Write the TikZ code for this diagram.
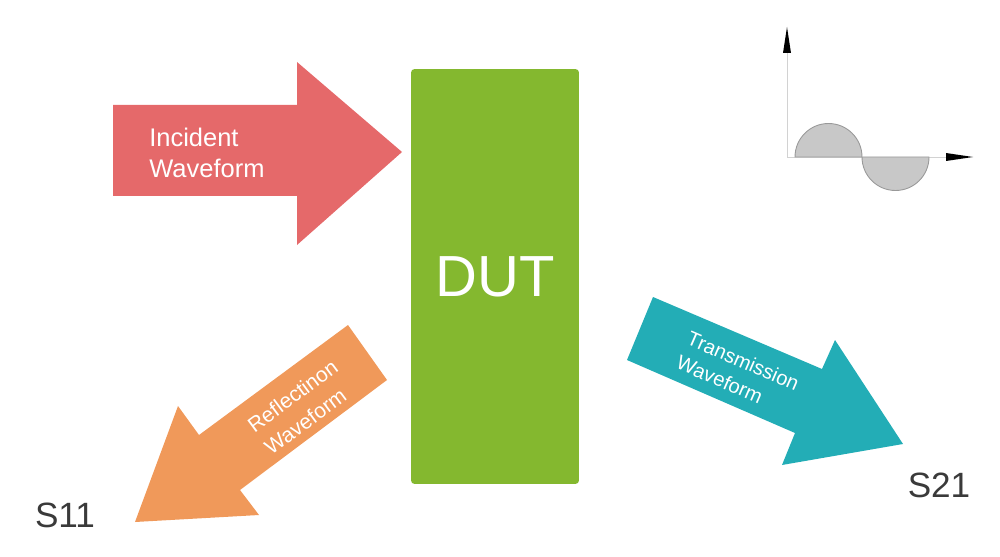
\documentclass[tikz,border=0pt]{standalone}
\usepackage{fontspec}
\setmainfont{Liberation Sans}
\definecolor{wvred}{HTML}{E5696A}
\definecolor{wvgreen}{HTML}{84B82F}
\definecolor{wvorange}{HTML}{F0995A}
\definecolor{wvteal}{HTML}{23ADB6}
\definecolor{wvgray}{HTML}{3A3A3A}
\definecolor{wvfill}{HTML}{C8C8C8}

\begin{document}
\begin{tikzpicture}[x=0.02cm, y=-0.02cm,
  wavelabel/.style={text=white, align=left, inner sep=0pt},
  portlabel/.style={text=wvgray, inner sep=0pt, font=\fontsize{20}{24}\selectfont}]
  \useasboundingbox (0,0) rectangle (1000,557);
  % incident block arrow
  \fill[wvred] (113,105) -- (297,105) -- (297,62) -- (402,152) -- (297,245) -- (297,196) -- (113,196) -- cycle;
  \node[wavelabel, anchor=west, font=\fontsize{14.5}{18}\selectfont] (incident) at (149,153) {Incident\\Waveform};
  % device under test
  \node[fill=wvgreen, rounded corners=2pt, minimum width=3.36cm, minimum height=8.3cm,
        text=white, font=\fontsize{33}{40}\selectfont] (dut) at (495,276.5) {DUT};
  % reflected block arrow
  \fill[wvorange] (348,325) -- (387,380) -- (240,490) -- (259,515) -- (135,522) -- (178,406) -- (199,435) -- cycle;
  \node[wavelabel, rotate=36.5, font=\fontsize{12}{16}\selectfont] (reflection) at (301,407) {Reflectinon\\Waveform};
  % transmitted block arrow
  \fill[wvteal] (653,297) -- (822,369) -- (835,340) -- (903,444) -- (782,465) -- (795,433) -- (627,360) -- cycle;
  \node[wavelabel, rotate=-23.5, font=\fontsize{11.5}{15}\selectfont] (transmission) at (738,373) {Transmission\\Waveform};
  % port names
  \node[portlabel] (s11) at (65,515) {S11};
  \node[portlabel] (s21) at (939,485) {S21};
  % small sine sketch: axes
  \draw[gray!35, line width=0.5pt] (787,53) -- (787,157) -- (946,157);
  \fill[black] (783,53) -- (787,27) -- (791,53) -- cycle;
  \fill[black] (946,153) -- (973,157) -- (946,161) -- cycle;
  % two half waves
  \foreach \cx/\ea in {795/360, 862/0}{
    \filldraw[fill=wvfill, draw=gray!80, line width=0.5pt] (\cx,157) arc[start angle=180, end angle=\ea, radius=33.5] -- cycle;
  }
\end{tikzpicture}
\end{document}
